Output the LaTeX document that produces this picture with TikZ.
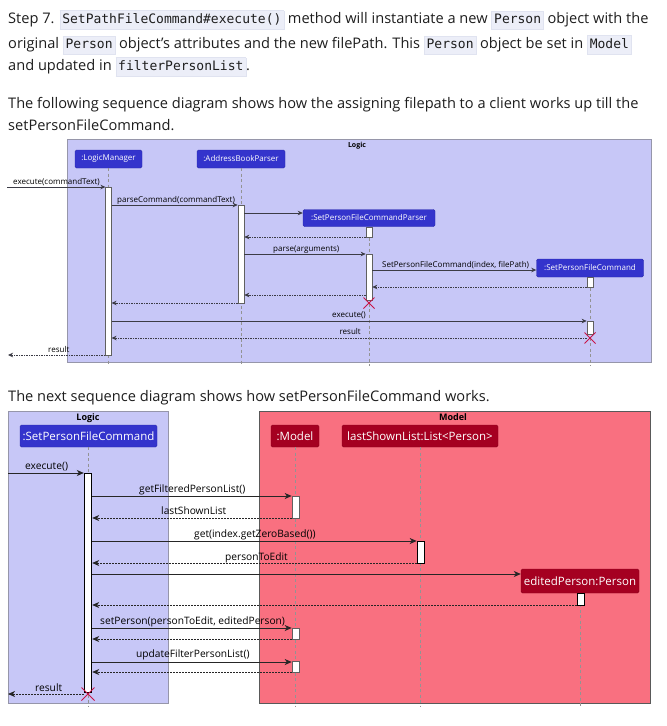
\documentclass[tikz,border=0pt]{standalone}
\usepackage{fontspec}
\setmainfont{Open Sans}
\setmonofont{DejaVu Sans Mono}
\usetikzlibrary{arrows.meta,shapes.misc}

\definecolor{codebg}{RGB}{236,238,248}
\definecolor{codeframe}{RGB}{224,227,240}
\definecolor{logicbg}{RGB}{199,199,247}
\definecolor{logichead}{RGB}{52,52,204}
\definecolor{modelbg}{RGB}{249,112,128}
\definecolor{modelhead}{RGB}{165,0,33}
\definecolor{frameline}{RGB}{150,150,170}
\definecolor{msgline}{RGB}{60,60,70}
\definecolor{killred}{RGB}{200,20,70}
\definecolor{bodyink}{RGB}{30,30,30}

\newcommand\codebit[1]{{\setlength\fboxsep{2.2pt}\setlength\fboxrule{0.5pt}\fcolorbox{codeframe}{codebg}{\ttfamily\fontsize{13}{14}\selectfont\strut #1}}}

\begin{document}
\begin{tikzpicture}[x=1pt,y=-1pt,
  bodytext/.style={anchor=base west, inner sep=0, text=bodyink, font=\fontsize{14.6}{22}\selectfont},
  frame/.style={draw=frameline, line width=0.7pt, inner sep=0, anchor=north west},
  frametitle/.style={inner sep=0, anchor=base, font=\bfseries#1},
  headbox/.style={rounded corners=1.5pt, text=white, inner sep=0},
  headA/.style={headbox, fill=logichead, draw=logichead!85!black, font=\fontsize{8}{9}\selectfont, minimum height=18},
  headB/.style={headbox, font=\fontsize{11.5}{13}\selectfont, minimum height=22},
  act/.style={draw=gray!75!black, fill=white, line width=0.6pt, inner sep=0, anchor=north},
  lifeline/.style={draw=gray!85, dash pattern=on 3pt off 2.5pt, line width=0.7pt},
  msgA/.style={draw=msgline, line width=0.8pt, -{Stealth[length=5pt,width=4.5pt,inset=1.5pt]}},
  retA/.style={msgA, dash pattern=on 1.5pt off 1pt},
  msgB/.style={draw=black!85, line width=0.9pt, -{Stealth[length=7pt,width=6pt,inset=2pt]}},
  retB/.style={msgB, dash pattern=on 1.8pt off 1.2pt},
  lblA/.style={anchor=base west, inner sep=0, font=\fontsize{8}{9}\selectfont},
  lblB/.style={anchor=base west, inner sep=0, font=\fontsize{10.2}{11}\selectfont},
  kill/.style={cross out, draw=killred, line width=1pt, inner sep=0, minimum size=#1}
]
\useasboundingbox[fill=white] (0,0) rectangle (667,726);

% ---------------- paragraph text ----------------
\node[bodytext] (t1) at (8,23) {Step 7. \codebit{SetPathFileCommand\#execute()} method will instantiate a new \codebit{Person} object with the};
\node[bodytext] (t2) at (8,48) {original \codebit{Person} object’s attributes and the new filePath. This \codebit{Person} object be set in \codebit{Model}};
\node[bodytext] (t3) at (8,70) {and updated in \codebit{filterPersonList}.};
\node[bodytext] (t4) at (8,108) {The following sequence diagram shows how the assigning filepath to a client works up till the};
\node[bodytext] (t5) at (8,130) {setPersonFileCommand.};
\node[bodytext] (t6) at (8,401) {The next sequence diagram shows how setPersonFileCommand works.};

% ---------------- first diagram: Logic ----------------
\node[frame, fill=logicbg, minimum width=584, minimum height=223] (logicA) at (67,139) {};
\node[frametitle=\fontsize{7}{8}\selectfont] (logicAt) at (357,147) {Logic};

\node[headA, minimum width=67] (lm) at (108.5,159) {:LogicManager};
\node[headA, minimum width=88] (abp) at (241,159) {:AddressBookParser};
\node[headA, minimum width=132, minimum height=17] (scp) at (369,218) {:SetPersonFileCommandParser};
\node[headA, minimum width=107] (spc) at (590,268) {:SetPersonFileCommand};

\draw[lifeline] (lm.south) -- (lm.south |- 0,366);
\draw[lifeline] (abp.south) -- (abp.south |- 0,366);
\draw[lifeline] (scp.south) -- (scp.south |- 0,366);
\draw[lifeline] (spc.south) -- (spc.south |- 0,366);

\node[act, minimum width=5.5, minimum height=168] (lmA) at (108.5,187) {};
\node[act, minimum width=6, minimum height=98] (abpA) at (241,205) {};
\node[act, minimum width=6, minimum height=10] (scpA1) at (369,227) {};
\node[act, minimum width=6, minimum height=46] (scpA2) at (369,254) {};
\node[act, minimum width=6, minimum height=10] (spcA1) at (590,277) {};
\node[act, minimum width=6, minimum height=13] (spcA2) at (590,321) {};

\coordinate (inA) at (7,187);
\coordinate (outA) at (8,355);

\draw[msgA] (inA) -- (lmA.west |- inA);
\node[lblA] (m1) at (13,184) {execute(commandText)};
\draw[msgA] (lmA.east |- 0,205) -- (abpA.west |- 0,205);
\node[lblA] (m2) at (117,202) {parseCommand(commandText)};
\draw[msgA] (abpA.east |- 0,213) -- (scp.west |- 0,213);
\draw[retA] (scpA1.west |- 0,237) -- (abpA.east |- 0,237);
\draw[msgA] (abpA.east |- 0,254) -- (scpA2.west |- 0,254);
\node[lblA] (m5) at (273,251) {parse(arguments)};
\draw[msgA] (scpA2.east |- 0,270) -- (spc.west |- 0,270);
\node[lblA] (m6) at (382,267) {SetPersonFileCommand(index, filePath)};
\draw[retA] (spcA1.west |- 0,287) -- (scpA2.east |- 0,287);
\draw[retA] (scpA2.west |- 0,295) -- (abpA.east |- 0,295);
\draw[retA] (abpA.west |- 0,303) -- (lmA.east |- 0,303);
\draw[msgA] (lmA.east |- 0,321) -- (spcA2.west |- 0,321);
\node[lblA, anchor=base east] (m10) at (366,317) {execute()};
\draw[retA] (spcA2.west |- 0,338) -- (lmA.east |- 0,338);
\node[lblA, anchor=base east] (m11) at (361,334) {result};
\draw[retA] (lmA.west |- outA) -- (outA);
\node[lblA] (m12) at (48,352) {result};

\node[kill=10] (scpX) at (369,303) {};
\node[kill=10] (spcX) at (590,338) {};

% ---------------- second diagram: Logic and Model ----------------
\node[frame, fill=logicbg, minimum width=160, minimum height=292] (logicB) at (8,411) {};
\node[frametitle=\fontsize{9}{10}\selectfont] (logicBt) at (88,420) {Logic};
\node[frame, fill=modelbg, draw=gray!70!black, minimum width=391, minimum height=292] (modelB) at (259,411) {};
\node[frametitle=\fontsize{9}{10}\selectfont] (modelBt) at (453,420) {Model};

\node[headB, fill=logichead, draw=logichead!85!black, minimum width=137] (spfc) at (88.5,436) {:SetPersonFileCommand};
\node[headB, fill=modelhead, draw=modelhead!85!black, minimum width=48] (mdl) at (295,436) {:Model};
\node[headB, fill=modelhead, draw=modelhead!85!black, minimum width=156] (lst) at (420,436) {lastShownList:List<Person>};
\node[headB, fill=modelhead, draw=modelhead!85!black, minimum width=118, minimum height=24] (edp) at (580,581) {editedPerson:Person};

\draw[lifeline] (spfc.south) -- (spfc.south |- 0,706);
\draw[lifeline] (mdl.south) -- (mdl.south |- 0,706);
\draw[lifeline] (lst.south) -- (lst.south |- 0,706);
\draw[lifeline] (edp.south) -- (edp.south |- 0,706);

\node[act, draw=black, line width=0.9pt, minimum width=7.5, minimum height=219] (spfcA) at (88,473) {};
\node[act, minimum width=7, minimum height=22] (mdlA1) at (295.5,496) {};
\node[act, draw=black, minimum width=7, minimum height=22] (lstA) at (420.5,541) {};
\node[act, draw=black, minimum width=7, minimum height=12] (edpA) at (580.5,593) {};
\node[act, minimum width=7, minimum height=11] (mdlA2) at (295.5,628) {};
\node[act, minimum width=7, minimum height=11] (mdlA3) at (295.5,661) {};

\coordinate (inB) at (8,473);
\coordinate (outB) at (8,694);

\draw[msgB] (inB) -- (spfcA.west |- inB);
\node[lblB] (n1) at (25,469) {execute()};
\draw[msgB] (spfcA.east |- 0,496) -- (mdlA1.west |- 0,496);
\node[lblB] (n2) at (139,492) {getFilteredPersonList()};
\draw[retB] (mdlA1.west |- 0,518) -- (spfcA.east |- 0,518);
\node[lblB] (n3) at (161,514) {lastShownList};
\draw[msgB] (spfcA.east |- 0,541) -- (lstA.west |- 0,541);
\node[lblB] (n4) at (194,537) {get(index.getZeroBased())};
\draw[retB] (lstA.west |- 0,563) -- (spfcA.east |- 0,563);
\node[lblB] (n5) at (225,560) {personToEdit};
\draw[msgB] (spfcA.east |- 0,574) -- (edp.west |- 0,574);
\draw[retB] (edpA.west |- 0,605) -- (spfcA.east |- 0,605);
\draw[msgB] (spfcA.east |- 0,628) -- (mdlA2.west |- 0,628);
\node[lblB] (n8) at (100,624) {setPerson(personToEdit, editedPerson)};
\draw[retB] (mdlA2.west |- 0,639) -- (spfcA.east |- 0,639);
\draw[msgB] (spfcA.east |- 0,662) -- (mdlA3.west |- 0,662);
\node[lblB] (n10) at (136,657) {updateFilterPersonList()};
\draw[retB] (mdlA3.west |- 0,672) -- (spfcA.east |- 0,672);
\draw[retB] (spfcA.west |- outB) -- (outB);
\node[lblB] (n12) at (35,691) {result};

\node[kill=12] (spfcX) at (88,694) {};
\end{tikzpicture}
\end{document}
